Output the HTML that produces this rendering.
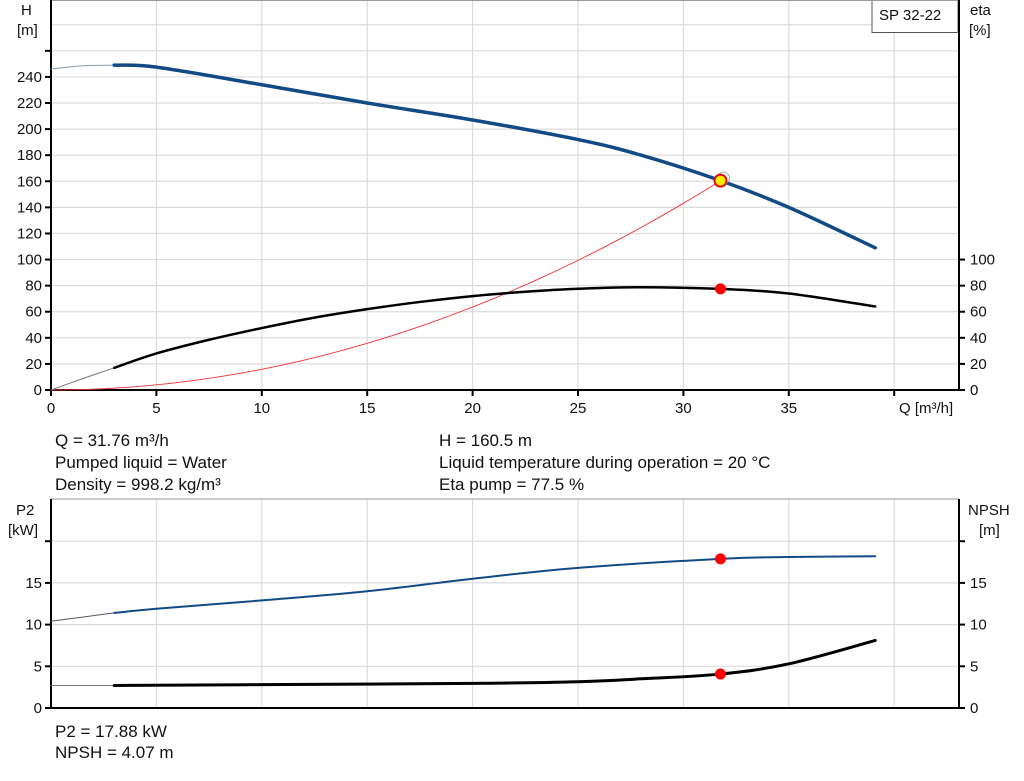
<!DOCTYPE html><html><head><meta charset="utf-8"><style>
body{margin:0;background:#fff}svg{display:block}
text{font-family:"Liberation Sans",Arial,sans-serif;font-size:15px;fill:#111}
text.i{font-size:17px}
</style></head><body>
<svg id="s" width="1024" height="781" viewBox="0 0 1024 781" xmlns="http://www.w3.org/2000/svg">
<g id="grid" stroke="#dcdcdc" stroke-width="1.2"></g>
<rect x="872" y="0.5" width="86" height="32" fill="#fff" stroke="#555"/>
<text x="879" y="20">SP 32-22</text>
<line x1="51" y1="0.5" x2="959" y2="0.5" stroke="#999"/>
<line x1="51" y1="499" x2="959" y2="499" stroke="#999"/>
<g id="axes" stroke="#000" stroke-width="2" fill="none"></g>
<g id="lab"></g>
<g id="curves" fill="none" stroke-linecap="round"></g>
<text x="21" y="15">H</text><text x="17" y="35">[m]</text>
<text x="970" y="15">eta</text><text x="969" y="35">[%]</text>
<text x="899" y="413">Q [m³/h]</text>
<text x="16" y="515">P2</text><text x="8" y="535">[kW]</text>
<text x="968" y="515">NPSH</text><text x="979" y="535">[m]</text>
<text class="i" x="55" y="446">Q = 31.76 m³/h</text>
<text class="i" x="55" y="468">Pumped liquid = Water</text>
<text class="i" x="55" y="490">Density = 998.2 kg/m³</text>
<text class="i" x="439" y="446">H = 160.5 m</text>
<text class="i" x="439" y="468">Liquid temperature during operation = 20 °C</text>
<text class="i" x="439" y="490">Eta pump = 77.5 %</text>
<text class="i" x="55" y="737">P2 = 17.88 kW</text>
<text class="i" x="55" y="758">NPSH = 4.07 m</text>
</svg>
<script>
const NS="http://www.w3.org/2000/svg";
function el(p,t,a,txt){const e=document.createElementNS(NS,t);for(const k in a)e.setAttribute(k,a[k]);if(txt!==undefined)e.textContent=txt;document.getElementById(p).appendChild(e);return e;}
const X=q=>51+21.08*q, YH=h=>390-1.3045*h, YP=p=>708-8.34*p;
for(let k=1;k<=8;k++){const x=X(5*k);el('grid','line',{x1:x,y1:0,x2:x,y2:390});el('grid','line',{x1:x,y1:499,x2:x,y2:708});}
for(let h=20;h<=280;h+=20){const y=YH(h);el('grid','line',{x1:51,y1:y,x2:959,y2:y});}
for(let p=5;p<=20;p+=5){const y=YP(p);el('grid','line',{x1:51,y1:y,x2:959,y2:y});}
el('axes','path',{d:`M51,0V390H959V0M51,499V708H959V499`});
for(let h=0;h<=260;h+=20){const y=YH(h);el('axes','line',{x1:45,y1:y,x2:51,y2:y});if(h<=240)el('lab','text',{x:42,y:y+5,'text-anchor':'end'},h);}
for(let e=0;e<=100;e+=20){const y=YH(e);el('axes','line',{x1:959,y1:y,x2:965,y2:y});el('lab','text',{x:970,y:y+5},e);}
for(let k=0;k<=8;k++){const x=X(5*k);el('axes','line',{x1:x,y1:390,x2:x,y2:396});if(k<8)el('lab','text',{x:x,y:413,'text-anchor':'middle'},5*k);}
for(let p=0;p<=20;p+=5){const y=YP(p);el('axes','line',{x1:45,y1:y,x2:51,y2:y});el('axes','line',{x1:959,y1:y,x2:965,y2:y});if(p<20){el('lab','text',{x:42,y:y+5,'text-anchor':'end'},p);el('lab','text',{x:970,y:y+5},p);}}
function path(pts){let d=`M${pts[0][0]},${pts[0][1]}`;for(let i=0;i<pts.length-1;i++){const p0=pts[Math.max(0,i-1)],p1=pts[i],p2=pts[i+1],p3=pts[Math.min(pts.length-1,i+2)];d+=`C${p1[0]+(p2[0]-p0[0])/6},${p1[1]+(p2[1]-p0[1])/6} ${p2[0]-(p3[0]-p1[0])/6},${p2[1]-(p3[1]-p1[1])/6} ${p2[0]},${p2[1]}`;}return d;}
function curve(data,Y,col,w,thin){const pts=data.map(a=>[X(a[0]),Y(a[1])]);const th=pts.filter((p,i)=>data[i][0]<=3);const tk=pts.filter((p,i)=>data[i][0]>=3);
if(thin)el('curves','path',{d:path(th),stroke:thin,'stroke-width':1});el('curves','path',{d:path(tk),stroke:col,'stroke-width':w});}
curve([[0,246],[1.5,248.6],[3,249],[5,247.5],[10,234],[15,220],[20,207],[25,192],[28,180],[31.76,160.5],[35,140],[39.1,109]],YH,'#124a85',3.5,'#8899aa');
const sys=[];for(let q=0;q<=31.76;q+=1)sys.push([X(q),YH(0.159*q*q)]);sys.push([X(31.76),YH(160.5)]);
el('curves','path',{d:path(sys),stroke:'#f03030','stroke-width':0.9});
const eta=[[0,0],[1.5,8.7]];for(let q=3;q<=39.1;q+=2){eta.push([q,79.3-0.0875*(q-28)*(q-28)+ (q<28?0.0011*(28-q)*(28-q)*(28-q):0)]);}
eta.push([39.1,64]);
curve([[0,0],[1.5,8.7],[3,17],[5,28],[7.5,38.5],[10,47.5],[12.5,55.5],[15,62],[17.5,67.5],[20,72],[22.5,75.3],[25,77.6],[28,78.8],[31.76,77.5],[35,74],[39.1,64]],YH,'#000',2.5,'#777');
curve([[0,10.4],[1.5,10.9],[3,11.4],[5,11.9],[10,12.9],[15,14.0],[20,15.5],[25,16.8],[31.76,17.88],[35,18.1],[39.1,18.2]],YP,'#124a85',2,'#556');
curve([[0,2.7],[1.5,2.7],[3,2.7],[10,2.8],[20,2.95],[25,3.15],[28,3.5],[31.76,4.07],[35,5.3],[39.1,8.1]],YP,'#000',3,'#777');
el('curves','circle',{cx:X(31.76)+3,cy:YH(161)-2,r:6,stroke:'#aaa','stroke-width':1,fill:'none'});
el('curves','circle',{cx:X(31.76),cy:YH(160.5),r:6,fill:'#ffee00',stroke:'#e01010','stroke-width':2});
el('curves','circle',{cx:X(31.76),cy:YH(77.5),r:5.5,fill:'#ff0000',stroke:'none'});
el('curves','circle',{cx:X(31.76),cy:YP(17.88),r:5.5,fill:'#ff0000',stroke:'none'});
el('curves','circle',{cx:X(31.76),cy:YP(4.07),r:5.5,fill:'#ff0000',stroke:'none'});
</script>
</body></html>
